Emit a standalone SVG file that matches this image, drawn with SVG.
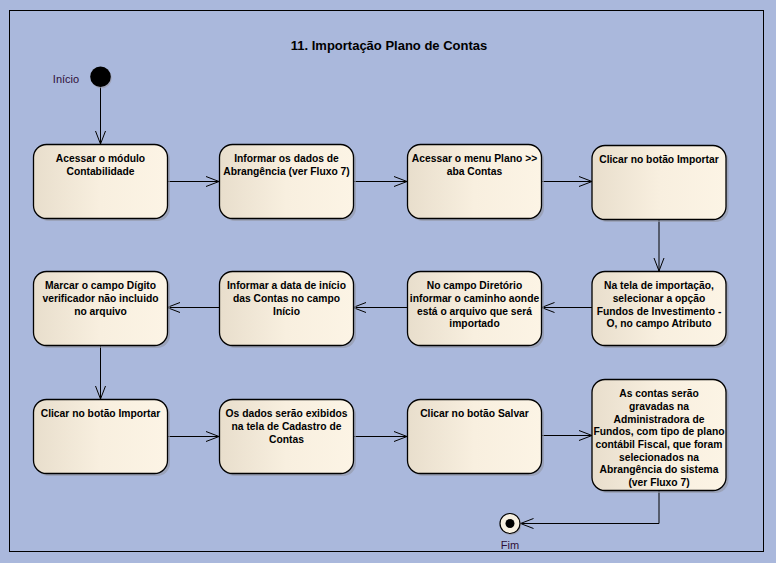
<svg xmlns="http://www.w3.org/2000/svg" width="776" height="563" viewBox="0 0 776 563">
<defs>
<linearGradient id="fill" x1="0" y1="0" x2="1" y2="0">
<stop offset="0" stop-color="#E8DECC"/>
<stop offset="0.5" stop-color="#F8EFDF"/>
<stop offset="1" stop-color="#FCF4E5"/>
</linearGradient>
<marker id="arr" markerUnits="userSpaceOnUse" viewBox="0 0 14 12" markerWidth="14" markerHeight="12" refX="13" refY="6" orient="auto">
<path d="M0,1 L13,6 L0,11" fill="none" stroke="#000" stroke-width="1"/>
</marker>
</defs>
<style>
.bg{fill:#AAB8DC}
.frame{fill:none;stroke:#000;stroke-width:1}
.box{fill:url(#fill);stroke:#000;stroke-width:1.3}
.sh{fill:#9498A8;opacity:0.65}
.t{font-family:"Liberation Sans",Arial,sans-serif;font-size:10.3px;font-weight:bold;fill:#000;text-anchor:middle}
.lbl{font-family:"Liberation Sans",Arial,sans-serif;font-size:11px;fill:#2E0F38;text-anchor:middle}
.title{font-family:"Liberation Sans",Arial,sans-serif;font-size:13px;font-weight:bold;fill:#000;text-anchor:middle}
.c{fill:none;stroke:#000;stroke-width:1;marker-end:url(#arr)}
</style>
<rect class="bg" x="0" y="0" width="776" height="563"/>
<rect class="frame" x="9.5" y="10.5" width="754" height="541"/>
<text class="title" x="389" y="50">11. Importação Plano de Contas</text>

<g id="connectors">
<path class="c" d="M100.5,87 L100.5,144"/>
<path class="c" d="M167,181.5 L219,181.5"/>
<path class="c" d="M353,181.5 L407,181.5"/>
<path class="c" d="M541.5,181.5 L592,181.5"/>
<path class="c" d="M659,219 L659,271"/>
<path class="c" d="M592,307.5 L541.5,307.5"/>
<path class="c" d="M407,307.5 L353,307.5"/>
<path class="c" d="M219,307.5 L167,307.5"/>
<path class="c" d="M100.5,345 L100.5,399"/>
<path class="c" d="M167,436.5 L219,436.5"/>
<path class="c" d="M353,436.5 L407,436.5"/>
<path class="c" d="M541.5,435.5 L592,435.5"/>
<path class="c" d="M659,490 L659,523.5 L520.5,523.5"/>
</g>

<g id="start">
<circle cx="101.5" cy="78" r="10.3" fill="#9A9AA8" opacity="0.7"/>
<circle cx="100.5" cy="76.8" r="10.3" fill="#000"/>
<text class="lbl" x="66" y="82.5">Início</text>
</g>

<g id="n1">
<rect class="sh" x="36" y="147" width="134" height="74" rx="13"/>
<rect class="box" x="33.5" y="144.5" width="134" height="74" rx="13"/>
<text class="t" x="100.5" y="162.3">Acessar o módulo</text>
<text class="t" x="100.5" y="175">Contabilidade</text>
</g>
<g id="n2">
<rect class="sh" x="222" y="147" width="134" height="74" rx="13"/>
<rect class="box" x="219.5" y="144.5" width="134" height="74" rx="13"/>
<text class="t" x="286.5" y="162.3">Informar os dados de</text>
<text class="t" x="286.5" y="175">Abrangência (ver Fluxo 7)</text>
</g>
<g id="n3">
<rect class="sh" x="410" y="147" width="134" height="74" rx="13"/>
<rect class="box" x="407.5" y="144.5" width="134" height="74" rx="13"/>
<text class="t" x="474.5" y="162.3">Acessar o menu Plano &gt;&gt;</text>
<text class="t" x="474.5" y="175">aba Contas</text>
</g>
<g id="n4">
<rect class="sh" x="594.5" y="148" width="134" height="74" rx="13"/>
<rect class="box" x="592" y="145.5" width="134" height="74" rx="13"/>
<text class="t" x="659" y="163">Clicar no botão Importar</text>
</g>

<g id="n8">
<rect class="sh" x="594.5" y="274" width="134" height="74" rx="13"/>
<rect class="box" x="592" y="271.5" width="134" height="74" rx="13"/>
<text class="t" x="659" y="289.3">Na tela de importação,</text>
<text class="t" x="659" y="301.9">selecionar a opção</text>
<text class="t" x="659" y="314.5">Fundos de Investimento -</text>
<text class="t" x="659" y="327.1">O, no campo Atributo</text>
</g>
<g id="n7">
<rect class="sh" x="410" y="274" width="134" height="74" rx="13"/>
<rect class="box" x="407.5" y="271.5" width="134" height="74" rx="13"/>
<text class="t" x="474.5" y="289.3">No campo Diretório</text>
<text class="t" x="474.5" y="301.9">informar o caminho aonde</text>
<text class="t" x="474.5" y="314.5">está o arquivo que será</text>
<text class="t" x="474.5" y="327.1">importado</text>
</g>
<g id="n6">
<rect class="sh" x="222" y="274" width="134" height="74" rx="13"/>
<rect class="box" x="219.5" y="271.5" width="134" height="74" rx="13"/>
<text class="t" x="286.5" y="289.3">Informar a data de início</text>
<text class="t" x="286.5" y="301.9">das Contas no campo</text>
<text class="t" x="286.5" y="314.5">Início</text>
</g>
<g id="n5">
<rect class="sh" x="36" y="274" width="134" height="74" rx="13"/>
<rect class="box" x="33.5" y="271.5" width="134" height="74" rx="13"/>
<text class="t" x="100.5" y="289.3">Marcar o campo Dígito</text>
<text class="t" x="100.5" y="301.9">verificador não incluido</text>
<text class="t" x="100.5" y="314.5">no arquivo</text>
</g>

<g id="n9">
<rect class="sh" x="36" y="402" width="134" height="74" rx="13"/>
<rect class="box" x="33.5" y="399.5" width="134" height="74" rx="13"/>
<text class="t" x="100.5" y="417.3">Clicar no botão Importar</text>
</g>
<g id="n10">
<rect class="sh" x="222" y="402" width="134" height="74" rx="13"/>
<rect class="box" x="219.5" y="399.5" width="134" height="74" rx="13"/>
<text class="t" x="286.5" y="417.3">Os dados serão exibidos</text>
<text class="t" x="286.5" y="429.9">na tela de Cadastro de</text>
<text class="t" x="286.5" y="442.5">Contas</text>
</g>
<g id="n11">
<rect class="sh" x="410" y="402" width="134" height="74" rx="13"/>
<rect class="box" x="407.5" y="399.5" width="134" height="74" rx="13"/>
<text class="t" x="474.5" y="416.8">Clicar no botão Salvar</text>
</g>
<g id="n12">
<rect class="sh" x="594.5" y="382" width="134" height="111" rx="13"/>
<rect class="box" x="592" y="379.5" width="134" height="111" rx="13"/>
<text class="t" x="659" y="397.3">As contas serão</text>
<text class="t" x="659" y="410">gravadas na</text>
<text class="t" x="659" y="422.7">Administradora de</text>
<text class="t" x="659" y="435.3">Fundos, com tipo de plano</text>
<text class="t" x="659" y="448">contábil Fiscal, que foram</text>
<text class="t" x="659" y="460.7">selecionados na</text>
<text class="t" x="659" y="473.3">Abrangência do sistema</text>
<text class="t" x="659" y="486">(ver Fluxo 7)</text>
</g>

<g id="end">
<circle cx="511" cy="524.5" r="10.5" fill="#9A9AA8" opacity="0.7"/>
<circle cx="510" cy="523.5" r="10" fill="#F7F0E1" stroke="#000" stroke-width="1.2"/>
<circle cx="510" cy="523.5" r="4.5" fill="#000"/>
<text class="lbl" x="510" y="549">Fim</text>
</g>
</svg>
